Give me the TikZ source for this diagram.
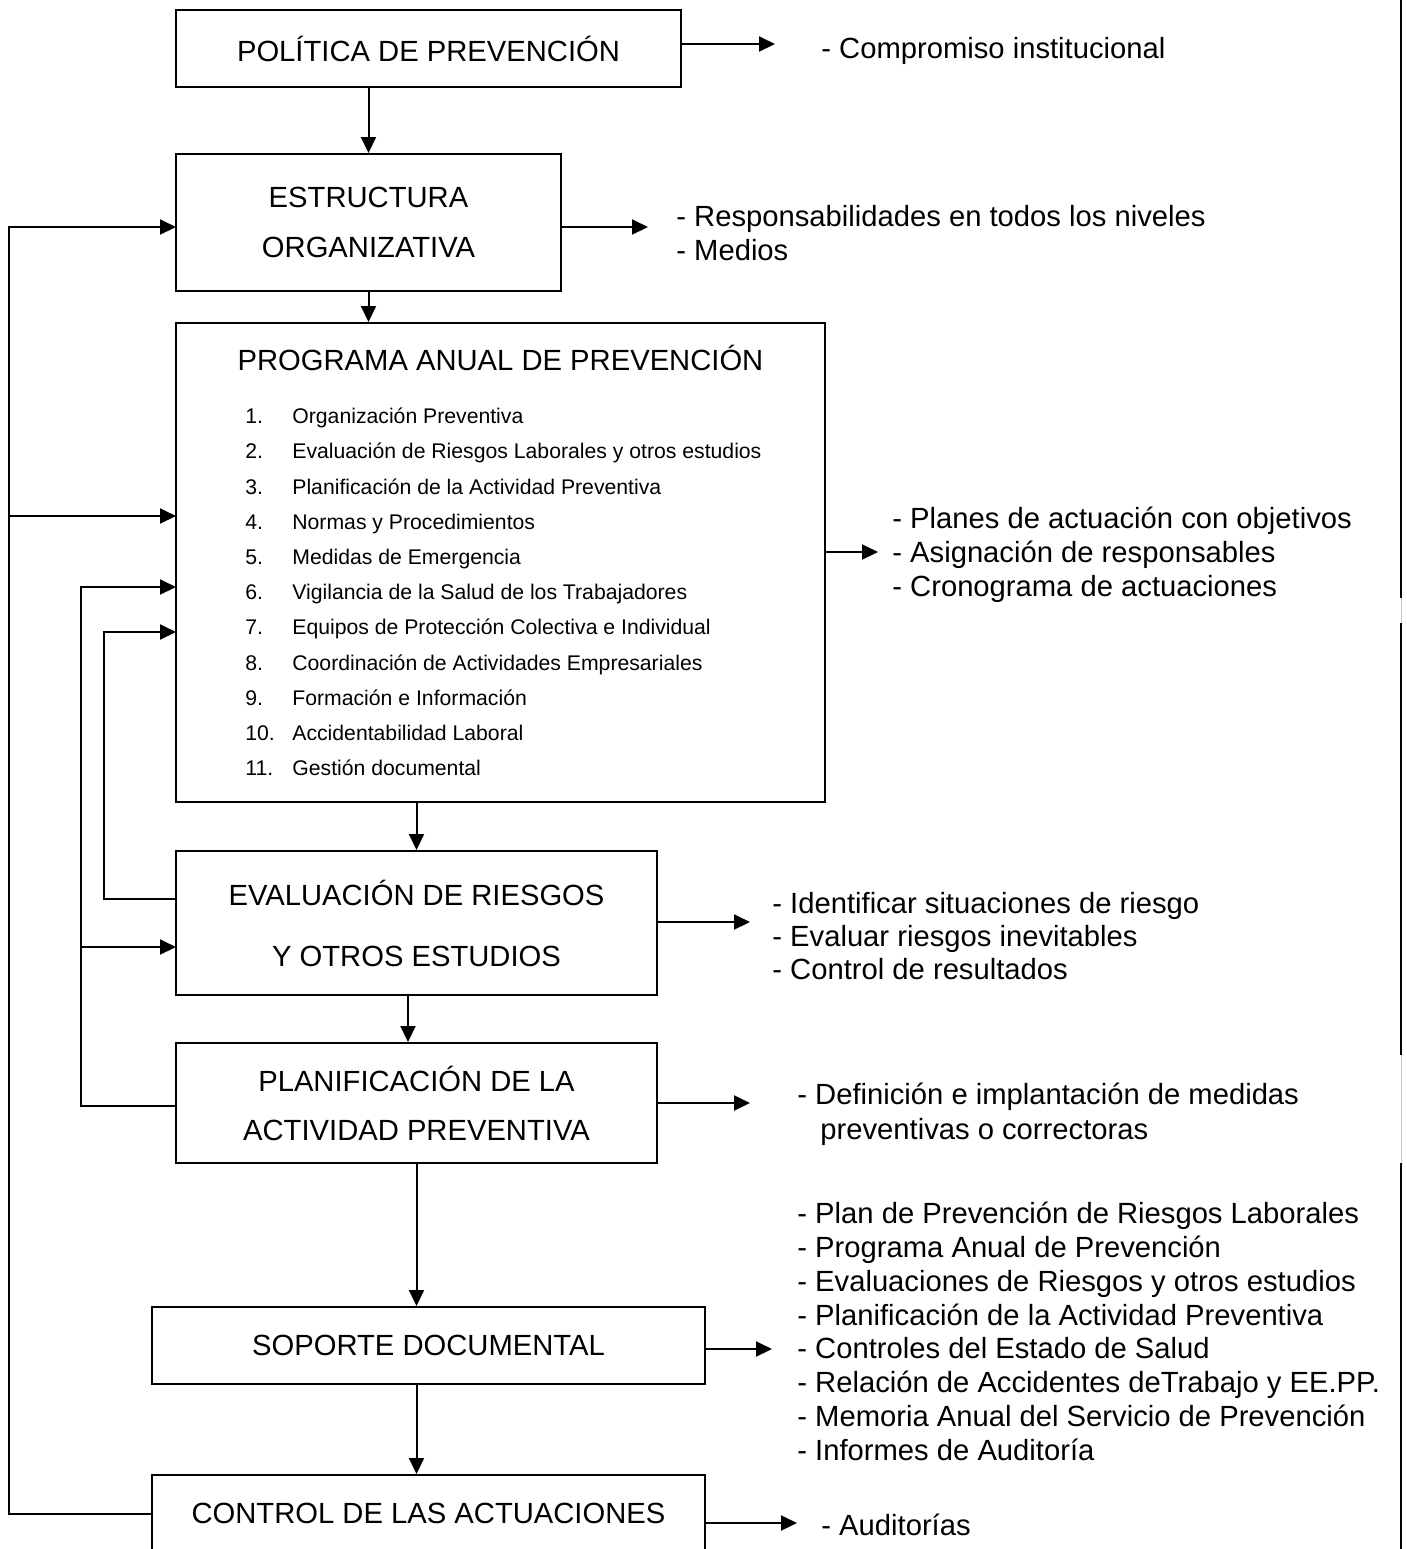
\documentclass[tikz,border=0pt]{standalone}
\usepackage{fontspec}
\setmainfont{Liberation Sans}
\usetikzlibrary{arrows.meta}

\begin{document}
\begin{tikzpicture}[x=0.5pt, y=-0.5pt,
	box/.style={draw, line width=1pt, inner sep=0pt, align=center, font=\fontsize{14.6}{25}\selectfont},
	txt/.style={anchor=base west, inner sep=0pt, font=\fontsize{14.6}{17}\selectfont},
	itm/.style={anchor=base west, inner sep=0pt, font=\fontsize{10.6}{12}\selectfont},
	arr/.style={line width=1pt, -{Triangle[length=8pt,width=7.5pt]}},
	ln/.style={line width=1pt}]
		\useasboundingbox (0,0) rectangle (1407,1549);

		\node[box, minimum width=252.5pt, minimum height=38.5pt] (pol) at (428.5,48.5) {POLÍTICA DE PREVENCIÓN};
		\node[box, minimum width=192.5pt, minimum height=68.5pt] (est) at (368.5,222.5) {ESTRUCTURA\\ORGANIZATIVA};
		\node[box, minimum width=324.5pt, minimum height=239.5pt] (prog) at (500.5,562.5) {};
		\node[box, minimum width=240.5pt, minimum height=72pt, font=\fontsize{14.6}{30.5}\selectfont] (eva) at (416.5,923) {EVALUACIÓN DE RIESGOS\\Y OTROS ESTUDIOS};
		\node[box, minimum width=240.5pt, minimum height=60pt, font=\fontsize{14.6}{24.5}\selectfont] (plan) at (416.5,1103) {PLANIFICACIÓN DE LA\\ACTIVIDAD PREVENTIVA};
		\node[box, minimum width=276.5pt, minimum height=38.5pt] (sop) at (428.5,1345.5) {SOPORTE DOCUMENTAL};
		\node[box, minimum width=276.5pt, minimum height=38.5pt] (ctl) at (428.5,1513.5) {CONTROL DE LAS ACTUACIONES};

		\node[txt, anchor=base] (progt) at (500.5,370.5) {PROGRAMA ANUAL DE PREVENCIÓN};
		\foreach \t [count=\i] in {Organización Preventiva, Evaluación de Riesgos Laborales y otros estudios, Planificación de la Actividad Preventiva, Normas y Procedimientos, Medidas de Emergencia, Vigilancia de la Salud de los Trabajadores, Equipos de Protección Colectiva e Individual, Coordinación de Actividades Empresariales, Formación e Información, Accidentabilidad Laboral, Gestión documental} {
			\node[itm] (num\i) at (245,{423.6+35.2*(\i-1)}) {\i.};
			\node[itm] (item\i) at (292,{423.6+35.2*(\i-1)}) {\t};
		}

		\draw [arr] (pol.south -| est.north) -- (est.north);
		\draw [arr] (est.south) -- (est.south |- prog.north);
		\draw [arr] (prog.south -| eva.north) -- (eva.north);
		\draw [arr] ([xshift=-4.25pt]eva.south) -- ([xshift=-4.25pt]plan.north);
		\draw [arr] (plan.south) -- (plan.south |- sop.north);
		\draw [arr] (sop.south -| plan.south) -- (ctl.north -| plan.south);

		\coordinate (polr) at (775,44);
		\coordinate (estr) at (648,227);
		\coordinate (progr) at (878,552);
		\coordinate (evar) at (750,922);
		\coordinate (planr) at (750,1103);
		\coordinate (sopr) at (772,1349);
		\coordinate (ctlr) at (797,1523);
		\draw [arr] (pol.east |- polr) -- (polr);
		\draw [arr] (est.east |- estr) -- (estr);
		\draw [arr] (prog.east |- progr) -- (progr);
		\draw [arr] (eva.east |- evar) -- (evar);
		\draw [arr] (plan.east |- planr) -- (planr);
		\draw [arr] (sop.east |- sopr) -- (sopr);
		\draw [arr] (ctl.east |- ctlr) -- (ctlr);

		\node[txt] (poll) at (821,58.5) {- Compromiso institucional};
		\foreach \t [count=\i] in {- Responsabilidades en todos los niveles, - Medios}
			\node[txt] (estl\i) at (676,{226.5+34*(\i-1)}) {\t};
		\foreach \t [count=\i] in {- Planes de actuación con objetivos, - Asignación de responsables, - Cronograma de actuaciones}
			\node[txt] (progl\i) at (892,{528+34*(\i-1)}) {\t};
		\foreach \t [count=\i] in {- Identificar situaciones de riesgo, - Evaluar riesgos inevitables, - Control de resultados}
			\node[txt] (eval\i) at (772,{913.5+33*(\i-1)}) {\t};
		\node[txt] (planl1) at (797,1104.5) {- Definición e implantación de medidas};
		\node[txt] (planl2) at (820,1139.5) {preventivas o correctoras};
		\foreach \t [count=\i] in {- Plan de Prevención de Riesgos Laborales, - Programa Anual de Prevención, - Evaluaciones de Riesgos y otros estudios, - Planificación de la Actividad Preventiva, - Controles del Estado de Salud, - Relación de Accidentes deTrabajo y EE.PP., - Memoria Anual del Servicio de Prevención, - Informes de Auditoría}
			\node[txt] (sopl\i) at (797,{1223.5+33.85*(\i-1)}) {\t};
		\node[txt] (ctll) at (821,1535.5) {- Auditorías};

		% retornos
		\coordinate (fo) at (9,0);
		\coordinate (fm) at (81,0);
		\coordinate (fi) at (104,0);
		\coordinate (estin) at (176,227);
		\coordinate (pin1) at (176,516);
		\coordinate (pin2) at (176,587);
		\coordinate (pin3) at (176,632);
		\coordinate (evain) at (176,947);
		\coordinate (evaout) at (176,899);
		\coordinate (planout) at (176,1106);
		\draw [arr] (ctl.west) -| (estin -| fo) -- (estin);
		\draw [arr] (pin1 -| fo) -- (pin1);
		\draw [arr] (planout) -| (pin2 -| fm) -- (pin2);
		\draw [arr] (evain -| fm) -- (evain);
		\draw [arr] (evaout) -| (pin3 -| fi) -- (pin3);

		\draw [ln] (1401,0) -- (1401,598);
		\draw [line width=0.5pt, black!20] (1401,598) -- (1401,623);
		\draw [ln] (1401,623) -- (1401,1055);
		\draw [line width=0.5pt, black!20] (1401,1055) -- (1401,1163);
		\draw [ln] (1401,1163) -- (1401,1549);
\end{tikzpicture}
\end{document}
